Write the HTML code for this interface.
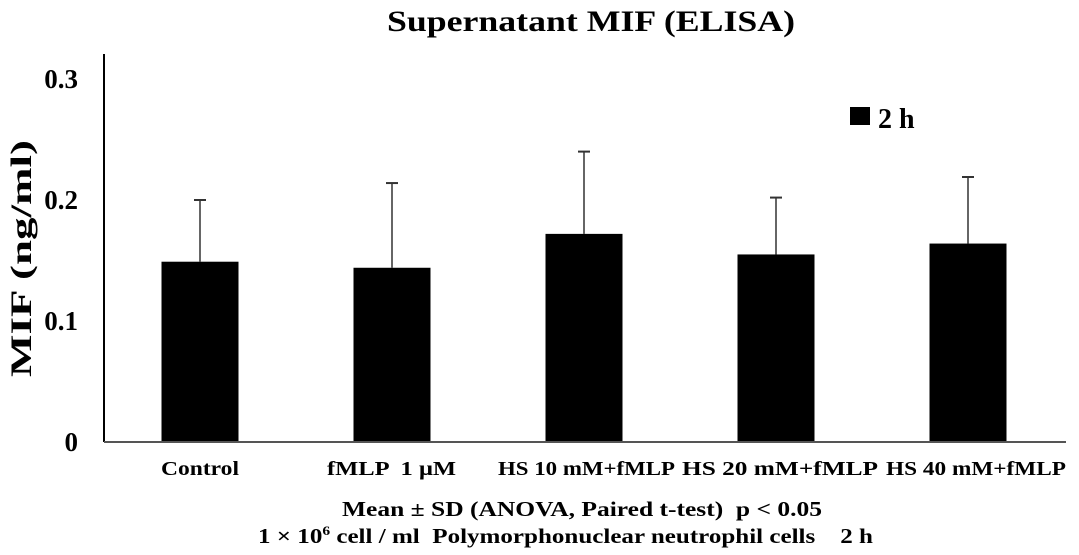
<!DOCTYPE html>
<html><head><meta charset="utf-8"><style>
body{margin:0;background:#fff;}
svg{display:block;font-family:"Liberation Serif",serif;font-weight:bold;}
</style></head><body>
<svg id="chart" width="1079" height="555">
<text x="387" y="31" font-size="30" textLength="408" lengthAdjust="spacingAndGlyphs">Supernatant  MIF (ELISA)</text>
<text transform="translate(31,377) rotate(-90)" font-size="30" textLength="237" lengthAdjust="spacingAndGlyphs">MIF (ng/ml)</text>
<g id="ticks"></g>
<g id="bars"></g>
<line x1="104" y1="54" x2="104" y2="442" stroke="#000" stroke-width="2"/>
<line x1="104" y1="442" x2="1066" y2="442" stroke="#555" stroke-width="2"/>
<rect x="850" y="107" width="20" height="18" fill="#000"/>
<text x="878" y="128" font-size="28">2 h</text>
<text x="342" y="516" font-size="21" textLength="480" lengthAdjust="spacingAndGlyphs" xml:space="preserve">Mean ± SD (ANOVA, Paired t-test)  p &lt; 0.05</text>
<text x="258" y="543" font-size="21" textLength="615" lengthAdjust="spacingAndGlyphs" xml:space="preserve">1 × 10<tspan font-size="13" dy="-8">6</tspan><tspan dy="8"> cell / ml  Polymorphonuclear neutrophil cells    2 h</tspan></text>
</svg>
<script>
const categories=["Control","fMLP  1 μM","HS 10 mM+fMLP","HS 20 mM+fMLP","HS 40 mM+fMLP"];
const means=[0.149,0.144,0.172,0.155,0.164];
const errTops=[0.200,0.214,0.240,0.202,0.219];
const yTicks=[0,0.1,0.2,0.3];
const yTickLabels=["0","0.1","0.2","0.3"];
const NS="http://www.w3.org/2000/svg";
const y0=442,yScale=1210,x0=104,band=192,bw=77;
const labelBoxes=[[161,239],[327,456],[498,675],[682,878],[886,1066]];
function yPos(v){return y0-v*yScale;}
function xCenter(i){return x0+band*(i+0.5);}
const tg=document.getElementById('ticks'),bg=document.getElementById('bars');
yTicks.forEach((t,i)=>{
 const tx=document.createElementNS(NS,'text');
 tx.setAttribute('x',78);tx.setAttribute('y',yPos(t)+9);
 tx.setAttribute('text-anchor','end');tx.setAttribute('font-size','27');
 tx.textContent=yTickLabels[i];
 
 
 tg.appendChild(tx);
});
categories.forEach((c,i)=>{
 const cx=xCenter(i);
 const e=document.createElementNS(NS,'line');
 e.setAttribute('x1',cx);e.setAttribute('x2',cx);
 e.setAttribute('y1',yPos(errTops[i]));e.setAttribute('y2',yPos(means[i]));
 e.setAttribute('stroke','#333');e.setAttribute('stroke-width','1.5');
 
 
 bg.appendChild(e);
 const cap=document.createElementNS(NS,'line');
 cap.setAttribute('x1',cx-6);cap.setAttribute('x2',cx+6);
 cap.setAttribute('y1',yPos(errTops[i]));cap.setAttribute('y2',yPos(errTops[i]));
 cap.setAttribute('stroke','#333');cap.setAttribute('stroke-width','2');
 
 
 bg.appendChild(cap);
 const r=document.createElementNS(NS,'rect');
 r.setAttribute('x',cx-bw/2);r.setAttribute('width',bw);
 r.setAttribute('y',yPos(means[i]));r.setAttribute('height',y0-yPos(means[i]));
 r.setAttribute('fill','#000');
 
 
 bg.appendChild(r);
 const l=document.createElementNS(NS,'text');
 const bx=labelBoxes[i];
 l.setAttribute('x',bx[0]);l.setAttribute('y',475);
 l.setAttribute('font-size','20');
 l.setAttribute('textLength',bx[1]-bx[0]);
 l.setAttribute('lengthAdjust','spacingAndGlyphs');
 l.setAttributeNS('http://www.w3.org/XML/1998/namespace','xml:space','preserve');
 l.textContent=c;
 
 
 bg.appendChild(l);
});
</script>
</body></html>
